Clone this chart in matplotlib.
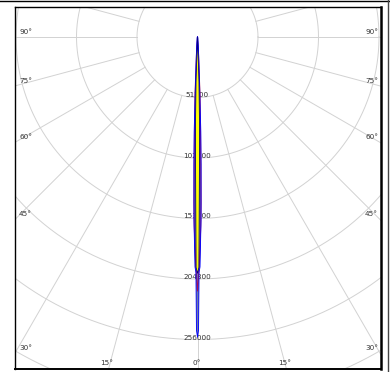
import numpy as np
import matplotlib
matplotlib.use("Agg")
import matplotlib.pyplot as plt

# DATA
ring_values = [51200, 102400, 153600, 204800, 256000]
ring_labels = ["51200", "102400", "153600", "204800", "256000"]
side_angles = [90, 75, 60, 45, 30]
bottom_angles = [-15, 0, 15]

# intensity curves (angle from nadir in deg, candela)
blue_ang = [0, 0.2, 0.38, 0.62, 1.1, 1.6, 2.0, 3, 5, 10, 30, 60, 90]
blue_cd = [254000, 248000, 199000, 194600, 155000, 108000, 80000, 25000, 8000, 2000, 500, 200, 0]
yellow_ang = [0, 0.35, 0.55, 0.85, 1.35, 1.9, 2.5, 10, 90]
yellow_cd = [200000, 195000, 150000, 110000, 70000, 38000, 3000, 800, 0]
red_ang = [0, 0.5, 1.0, 1.25, 1.6, 2.5, 4, 90]
red_cd = [215000, 190000, 160000, 140000, 100000, 50000, 10000, 0]

# LAYOUT (pixel geometry of the picture)
W, H = 390, 372
cx, cy = 197.5, 37
s = 51200 / 60.5  # cd per pixel
ax_l, ax_r, ax_t, ax_b = 15, 381, 7, 369


def px(x, y):
    return (x - cx) * s, -(y - cy) * s


def closed_curve(ang, cd):
    a = np.radians(np.array(ang, dtype=float))
    r = np.array(cd, dtype=float)
    a = np.concatenate([-a[::-1], a[1:]])
    r = np.concatenate([r[::-1], r[1:]])
    return r * np.sin(a), -r * np.cos(a)


fig = plt.figure(figsize=(W / 100, H / 100), dpi=100)
ax = fig.add_axes([ax_l / W, (H - ax_b) / H, (ax_r - ax_l) / W, (ax_b - ax_t) / H])
x0, y0 = px(ax_l, ax_b)
x1, y1 = px(ax_r, ax_t)
ax.set_xlim(x0, x1)
ax.set_ylim(y0, y1)
ax.set_xticks([])
ax.set_yticks([])
for sp in ax.spines.values():
    sp.set_linewidth(1.0)
    sp.set_color("black")
ax.spines["right"].set_linewidth(1.8)
ax.spines["bottom"].set_linewidth(1.4)

grid = "#d2d2d2"
# rings
t = np.linspace(0, 2 * np.pi, 721)
for k in range(1, 8):
    R = 51200 * k
    ax.plot(R * np.cos(t), R * np.sin(t), color=grid, lw=0.7, zorder=1)
# spokes every 15 deg
for a in range(-180, 181, 15):
    ar = np.radians(a)
    ax.plot([51200 * np.sin(ar), 500000 * np.sin(ar)],
            [-51200 * np.cos(ar), -500000 * np.cos(ar)], color=grid, lw=0.7, zorder=1)

# ring labels
for v, lab in zip(ring_values, ring_labels):
    ax.text(0, -v + 2 * s, lab, ha="center", va="center", fontsize=5.2,
            color="#333333", zorder=2)

# angle labels on the sides
for a in side_angles:
    yi = cy + (cx - ax_l) / np.tan(np.radians(a)) if a != 90 else cy
    xl, yl = px(ax_l + 4, yi - 5)
    xr, _ = px(ax_r - 3, yi - 5)
    ax.text(xl, yl, f"{a}°", ha="left", va="center", fontsize=5.2, color="#333333")
    ax.text(xr, yl, f"{a}°", ha="right", va="center", fontsize=5.2, color="#333333")
for a in bottom_angles:
    xi = cx + (ax_b - cy) * np.tan(np.radians(a)) - (2 if a != 0 else 1)
    xb, yb = px(xi, ax_b - 6)
    ax.text(xb, yb, f"{abs(a)}°", ha="center", va="center", fontsize=5.2, color="#333333")

# curves
bx, by = closed_curve(blue_ang, blue_cd)
ax.fill(bx, by, color="#6d7aa6", lw=0, zorder=3)
rx, ry = closed_curve(red_ang, red_cd)
ax.plot(rx, ry, color="#b0104a", lw=0.7, zorder=4)
ax.plot(bx, by, color="#0000ff", lw=0.65, zorder=5)
yx, yy = closed_curve(yellow_ang, yellow_cd)
ax.fill(yx, yy, facecolor="#ffff00", edgecolor="#000080", lw=0.6, zorder=6)

# outer frame (top and right)
fig.add_artist(plt.Line2D([0, 1], [1 - 1 / H, 1 - 1 / H], transform=fig.transFigure,
                          color="black", lw=1.0))
fig.add_artist(plt.Line2D([1 - 2.5 / W, 1 - 2.5 / W], [0, 1], transform=fig.transFigure,
                          color="#444444", lw=1.0))

fig.savefig("out.png", dpi=100)
